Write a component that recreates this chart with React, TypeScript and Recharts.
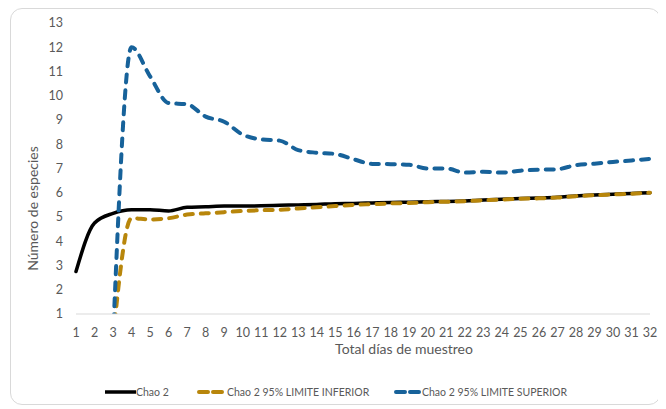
/**
 * Chao 2 species accumulation with 95% confidence limits.
 */
import { LineChart, Line, XAxis, YAxis } from 'recharts'

const days = [
  1, 2, 3, 4, 5, 6, 7, 8, 9, 10, 11, 12, 13, 14, 15, 16,
  17, 18, 19, 20, 21, 22, 23, 24, 25, 26, 27, 28, 29, 30, 31, 32,
]

const chao2 = [
  2.75, 4.75, 5.15, 5.3, 5.3, 5.25, 5.4, 5.42, 5.45, 5.45, 5.46, 5.48, 5.5, 5.52, 5.55, 5.56,
  5.58, 5.6, 5.61, 5.63, 5.64, 5.66, 5.7, 5.73, 5.76, 5.78, 5.81, 5.87, 5.91, 5.94, 5.97, 6.0,
]

const lowerLimit = [
  null, null, 0, 4.95, 4.9, 4.95, 5.1, 5.15, 5.2, 5.25, 5.28, 5.3, 5.35, 5.4, 5.45, 5.5,
  5.53, 5.56, 5.58, 5.61, 5.63, 5.65, 5.69, 5.72, 5.75, 5.77, 5.8, 5.86, 5.9, 5.93, 5.96, 6.0,
]

const upperLimit = [
  null, null, 0, 12.0, 10.8, 9.7, 9.65, 9.14, 8.93, 8.4, 8.2, 8.15, 7.76, 7.65, 7.6, 7.38,
  7.19, 7.18, 7.15, 7.0, 7.0, 6.83, 6.87, 6.83, 6.91, 6.95, 6.97, 7.14, 7.2, 7.27, 7.33, 7.4,
]

const yTicks = [1, 2, 3, 4, 5, 6, 7, 8, 9, 10, 11, 12, 13]

const series = [
  { key: 'chao2', name: 'Chao 2', color: '#000000', dashed: false },
  { key: 'lower', name: 'Chao 2 95% LIMITE INFERIOR', color: '#b8860b', dashed: true },
  { key: 'upper', name: 'Chao 2 95% LIMITE SUPERIOR', color: '#17629a', dashed: true },
]

const data = days.map((day, i) => ({
  day,
  chao2: chao2[i],
  lower: lowerLimit[i],
  upper: upperLimit[i],
}))

const FONT = 'Lato, "Open Sans", sans-serif'
const GRAY = '#595959'

const XTitle = ({ viewBox }: any) => (
  <text
    x={viewBox.x + viewBox.width / 2 + 41}
    y={viewBox.y + 40}
    textAnchor="middle"
    fill={GRAY}
    fontSize={14}
    fontFamily={FONT}
  >
    Total días de muestreo
  </text>
)

const YTitle = ({ viewBox }: any) => {
  const cx = viewBox.x + 24
  const cy = viewBox.y + viewBox.height / 2 + 40
  return (
    <text
      x={cx}
      y={cy}
      transform={`rotate(-90 ${cx} ${cy})`}
      textAnchor="middle"
      dominantBaseline="central"
      fill={GRAY}
      fontSize={14}
      fontFamily={FONT}
    >
      Número de especies
    </text>
  )
}

const legendPos = [
  { left: 97, textLeft: 128 },
  { left: 189, textLeft: 219 },
  { left: 386, textLeft: 414 },
]

export default function App() {
  return (
    <div style={{ position: 'relative', width: 654, height: 399, fontFamily: FONT }}>
      <div
        style={{
          position: 'absolute',
          left: 2,
          top: 0,
          width: 649,
          height: 395,
          border: '1px solid #d9d9d9',
          borderRadius: 12,
        }}
      />
      <div style={{ position: 'absolute', left: 0, top: 0 }}>
        <LineChart
          width={654}
          height={399}
          data={data}
          margin={{ top: 15, right: 12, left: 0, bottom: 0 }}
        >
          <XAxis
            dataKey="day"
            type="category"
            interval={0}
            height={93}
            tickLine={false}
            tickSize={0}
            tickMargin={14}
            axisLine={{ stroke: '#d9d9d9', strokeWidth: 1 }}
            tick={{ fill: GRAY, fontSize: 12.5, fontFamily: FONT }}
            label={{ content: XTitle }}
          />
          <YAxis
            width={68}
            domain={[1, 13]}
            ticks={yTicks}
            allowDataOverflow
            axisLine={false}
            tickLine={false}
            tickSize={0}
            tickMargin={13}
            tick={{ fill: GRAY, fontSize: 12.5, fontFamily: FONT }}
            label={{ content: YTitle }}
          />
          {series.map((s) => (
            <Line
              key={s.key}
              dataKey={s.key}
              name={s.name}
              type="monotone"
              stroke={s.color}
              strokeWidth={s.dashed ? 4 : 3.5}
              strokeDasharray={s.dashed ? '8 8' : undefined}
              strokeLinecap="round"
              dot={false}
              activeDot={false}
              isAnimationActive={false}
            />
          ))}
        </LineChart>
      </div>
      {series.map((s, i) => (
        <div key={s.key}>
          <svg
            width={32}
            height={8}
            style={{ position: 'absolute', left: legendPos[i].left, top: 380 }}
          >
            {s.dashed ? (
              <line x1={2} y1={4} x2={29} y2={4} stroke={s.color} strokeWidth={4}
                strokeDasharray="9 5" strokeLinecap="round" />
            ) : (
              <line x1={0} y1={4} x2={31} y2={4} stroke={s.color} strokeWidth={3.5} />
            )}
          </svg>
          <span
            style={{
              position: 'absolute',
              left: legendPos[i].textLeft,
              top: 377,
              fontSize: 10.5,
              color: GRAY,
              whiteSpace: 'nowrap',
              lineHeight: '14px',
            }}
          >
            {s.name}
          </span>
        </div>
      ))}
    </div>
  )
}
